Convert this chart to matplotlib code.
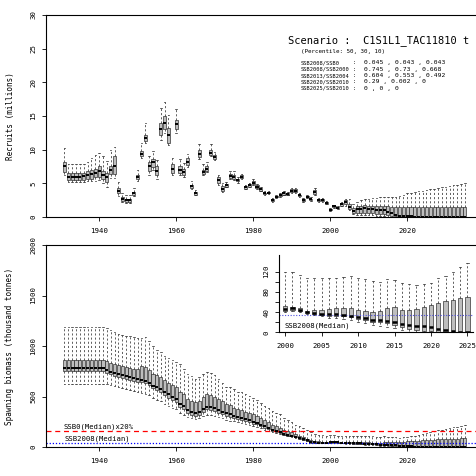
import numpy as np
import matplotlib.pyplot as plt

plt.rcParams['font.family'] = ['DejaVu Sans Mono']

years = list(range(1931, 2036))

# 加入量 (百万尾) : 箱ひげの5数
rec_lo = [6.3, 5.2, 5.2, 5.2, 5.2, 5.2, 5.3, 5.3, 5.4, 5.5,
          5.0, 4.5, 5.8, 5.8, 3.1, 2.2, 2.1, 2.1, 3.1, 5.4,
          8.7, 11.0, 6.3, 7.0, 5.7, 11.4, 12.5, 10.7, 6.2, 12.5,
          6.2, 6.0, 7.4, 4.1, 3.2, 8.6, 6.2, 6.7, 9.0, 8.4,
          4.8, 3.7, 4.4, 5.6, 5.5, 5.1, 5.6, 4.1, 4.4, 4.8,
          4.2, 3.8, 3.3, 3.4, 2.3, 2.8, 3.0, 3.2, 3.2, 3.6,
          3.6, 3.0, 2.3, 2.8, 2.4, 3.2, 2.3, 2.3, 1.9, 0.9,
          1.4, 1.2, 1.6, 1.7, 1.0, 0.4, 0.3, 0.3, 0.3, 0.3,
          0.3, 0.2, 0.1, 0.1, 0, 0, 0, 0, 0, 0,
          0, 0, 0, 0, 0, 0, 0, 0, 0, 0,
          0, 0, 0, 0, 0]
rec_q1 = [6.7, 5.5, 5.5, 5.5, 5.5, 5.5, 5.6, 5.7, 5.9, 6.0,
          5.6, 5.2, 6.4, 6.4, 3.5, 2.4, 2.3, 2.3, 3.3, 5.6,
          9.0, 11.3, 6.8, 7.4, 6.2, 12.2, 13.0, 11.0, 6.6, 13.0,
          6.5, 6.3, 7.7, 4.3, 3.3, 8.9, 6.4, 6.9, 9.2, 8.6,
          5.1, 3.9, 4.5, 5.8, 5.7, 5.3, 5.8, 4.2, 4.5, 4.9,
          4.3, 3.9, 3.4, 3.5, 2.4, 2.9, 3.1, 3.3, 3.3, 3.7,
          3.7, 3.1, 2.4, 2.9, 2.5, 3.4, 2.4, 2.4, 2.0, 1.0,
          1.5, 1.3, 1.7, 1.9, 1.2, 0.6, 0.6, 0.6, 0.6, 0.6,
          0.6, 0.5, 0.4, 0.4, 0.3, 0.2, 0.1, 0.05, 0, 0,
          0, 0, 0, 0, 0, 0, 0, 0, 0, 0,
          0, 0, 0, 0, 0]
rec_med = [7.5, 6.0, 6.0, 6.0, 6.0, 6.1, 6.3, 6.4, 6.6, 6.8,
           6.2, 5.9, 7.0, 7.5, 3.9, 2.7, 2.5, 2.5, 3.5, 5.9,
           9.4, 11.8, 7.5, 8.1, 6.9, 13.0, 13.9, 12.2, 7.2, 13.8,
           7.0, 6.7, 8.2, 4.6, 3.5, 9.4, 6.7, 7.2, 9.5, 8.9,
           5.5, 4.2, 4.7, 6.1, 6.0, 5.5, 6.0, 4.4, 4.7, 5.1,
           4.5, 4.1, 3.5, 3.6, 2.5, 3.0, 3.2, 3.5, 3.4, 3.9,
           3.9, 3.2, 2.5, 3.0, 2.6, 3.7, 2.5, 2.5, 2.1, 1.1,
           1.6, 1.4, 1.9, 2.2, 1.5, 0.9, 1.2, 1.2, 1.3, 1.2,
           1.2, 1.1, 1.0, 1.0, 0.8, 0.6, 0.3, 0.2, 0.1, 0.1,
           0.1, 0.05, 0.05, 0.05, 0, 0, 0, 0, 0, 0,
           0, 0, 0, 0, 0]
rec_q3 = [8.2, 6.5, 6.5, 6.5, 6.5, 6.6, 6.8, 7.0, 7.1, 7.5,
          6.8, 6.5, 7.6, 9.0, 4.3, 3.0, 2.7, 2.7, 3.7, 6.2,
          9.8, 12.2, 8.2, 8.6, 7.5, 14.0, 15.0, 13.2, 7.8, 14.4,
          7.6, 7.2, 8.7, 4.8, 3.7, 10.0, 7.0, 7.5, 9.9, 9.2,
          5.9, 4.6, 4.9, 6.4, 6.3, 5.7, 6.2, 4.6, 4.9, 5.3,
          4.7, 4.3, 3.6, 3.7, 2.6, 3.1, 3.3, 3.7, 3.5, 4.1,
          4.1, 3.3, 2.6, 3.1, 2.7, 4.0, 2.6, 2.6, 2.2, 1.2,
          1.7, 1.5, 2.1, 2.5, 2.0, 1.3, 1.7, 1.7, 1.8, 1.7,
          1.7, 1.6, 1.6, 1.6, 1.6, 1.5, 1.5, 1.5, 1.5, 1.5,
          1.5, 1.5, 1.5, 1.5, 1.5, 1.5, 1.5, 1.5, 1.5, 1.5,
          1.5, 1.5, 1.5, 1.5, 1.5]
rec_hi = [10.2, 7.9, 7.9, 7.8, 7.8, 7.9, 8.2, 8.8, 9.2, 9.5,
          9.0, 8.3, 10.0, 10.4, 5.2, 3.5, 3.2, 3.2, 4.3, 7.0,
          11.0, 13.9, 9.0, 9.8, 8.5, 16.2, 17.1, 15.1, 8.8, 16.1,
          8.6, 8.0, 9.3, 5.3, 4.0, 10.9, 7.8, 8.2, 10.8, 9.6,
          6.3, 5.0, 5.2, 6.9, 6.9, 6.0, 6.4, 4.8, 5.1, 5.6,
          4.9, 4.5, 3.8, 3.9, 2.8, 3.3, 3.5, 3.9, 3.7, 4.3,
          4.3, 3.5, 2.8, 3.3, 2.9, 4.3, 2.8, 2.8, 2.4, 1.3,
          1.8, 1.6, 2.3, 2.7, 2.6, 1.9, 2.2, 2.5, 2.6, 2.7,
          2.8, 2.8, 2.9, 3.0, 3.0, 2.9, 3.0, 3.1, 3.3, 3.5,
          3.6, 3.7, 3.8, 3.9, 4.0, 4.1, 4.2, 4.3, 4.4, 4.5,
          4.6, 4.7, 4.8, 4.9, 5.0]

# 親魚量 (千トン)
ssb_lo = [625, 625, 625, 625, 625, 625, 625, 625, 625, 625,
          625, 620, 612, 600, 590, 580, 570, 562, 555, 545,
          535, 525, 510, 485, 470, 455, 430, 410, 390, 372,
          340, 320, 300, 285, 278, 290, 310, 320, 318, 310,
          300, 285, 272, 262, 255, 245, 235, 225, 215, 205,
          198, 185, 172, 160, 145, 135, 128, 115, 105, 98,
          88, 75, 66, 56, 42, 40, 38, 37, 37, 41,
          43, 40, 36, 34, 32, 29, 28, 26, 24, 21,
          18, 15, 13, 11, 8, 5, 1, 0, 0, 0,
          0, 0, 0, 0, 0, 0, 0, 0, 0, 0,
          0, 0, 0, 0, 0]
ssb_q1 = [755, 755, 755, 755, 755, 755, 755, 755, 755, 755,
          755, 735, 720, 705, 695, 685, 675, 665, 655, 645,
          640, 630, 610, 580, 560, 540, 515, 490, 465, 445,
          400, 375, 340, 320, 305, 315, 345, 372, 365, 355,
          340, 322, 310, 300, 290, 280, 270, 255, 245, 232,
          225, 205, 190, 175, 155, 145, 140, 123, 113, 106,
          96, 80, 72, 60, 45, 42, 40, 40, 40, 43,
          45, 42, 38, 37, 35, 33, 33, 32, 30, 27,
          25, 21, 20, 19, 15, 11, 7, 5, 3, 2,
          1, 1, 1, 0, 0, 0, 0, 0, 0, 0,
          0, 0, 0, 0, 0]
ssb_med = [780, 780, 780, 780, 780, 780, 780, 780, 780, 780,
           780, 760, 745, 730, 720, 710, 700, 690, 680, 672,
           665, 655, 635, 605, 590, 570, 545, 520, 495, 475,
           430, 405, 370, 350, 335, 345, 375, 400, 395, 385,
           367, 348, 335, 325, 310, 300, 290, 275, 265, 252,
           242, 222, 205, 190, 168, 158, 150, 133, 122, 113,
           103, 87, 78, 65, 50, 46, 44, 44, 44, 47,
           49, 45, 40, 39, 37, 37, 36, 35, 33, 31,
           28, 25, 24, 23, 21, 17, 15, 13, 12, 10,
           7, 4, 2, 1, 1, 0, 0, 0, 0, 0,
           0, 0, 0, 0, 0]
ssb_q3 = [865, 865, 865, 865, 865, 865, 865, 865, 865, 865,
          865, 855, 835, 820, 810, 800, 790, 785, 775, 770,
          805, 790, 760, 720, 710, 690, 660, 635, 610, 590,
          545, 520, 480, 460, 445, 460, 495, 520, 510, 495,
          475, 455, 425, 420, 390, 380, 365, 345, 340, 325,
          305, 288, 265, 245, 222, 205, 190, 172, 160, 145,
          128, 112, 100, 80, 65, 60, 55, 52, 50, 52,
          51, 49, 43, 45, 45, 47, 48, 49, 49, 45,
          43, 41, 43, 49, 50, 45, 45, 47, 51, 55,
          58, 61, 63, 67, 70, 72, 74, 76, 78, 80,
          82, 83, 84, 85, 86]
ssb_hi = [1190, 1190, 1190, 1190, 1190, 1190, 1190, 1190, 1190, 1190,
          1190, 1180, 1160, 1140, 1120, 1110, 1100, 1095, 1088, 1080,
          1075, 1085, 1050, 1000, 965, 940, 900, 880, 860, 840,
          820, 770, 720, 700, 670, 690, 720, 743, 730, 710,
          670, 636, 597, 590, 570, 544, 540, 520, 505, 487,
          470, 437, 410, 390, 355, 340, 322, 290, 272, 245,
          222, 205, 190, 165, 145, 132, 122, 115, 112, 119,
          119, 113, 108, 107, 107, 107, 108, 109, 112, 107,
          105, 101, 100, 105, 103, 97, 95, 93, 95, 97,
          107, 112, 119, 129, 137, 145, 155, 165, 172, 180,
          188, 195, 200, 208, 215]

ssb0_20 = 155      # SSB0(Median) x 20%
ssb2008_med = 35   # SSB2008(Median)

scenario = 'Scenario :  C1S1L1_TAC11810 t'
pct_text = '(Percentile: 50, 30, 10)'
ratio_names = ['SSB2008/SSB0', 'SSB2008/SSB2000', 'SSB2013/SSB2004',
               'SSB2020/SSB2010', 'SSB2025/SSB2010']
ratio_vals = ['0.045 , 0.043 , 0.043', '0.745 , 0.73 , 0.668',
              '0.604 , 0.553 , 0.492', '0.29 , 0.002 , 0', '0 , 0 , 0']


def make_stats(lo, q1, med, q3, hi):
    return [dict(whislo=a, q1=b, med=c, q3=d, whishi=e, fliers=[])
            for a, b, c, d, e in zip(lo, q1, med, q3, hi)]


def draw_boxes(ax, stats, pos, w, mlw):
    ax.bxp(stats, positions=pos, widths=w, capwidths=w * 0.5,
           patch_artist=True, showfliers=False, manage_ticks=False,
           boxprops=dict(facecolor='#bebebe', edgecolor='#202020', linewidth=0.45),
           medianprops=dict(color='black', linewidth=mlw, solid_capstyle='butt'),
           whiskerprops=dict(color='#202020', linewidth=0.5, linestyle=(0, (3, 3))),
           capprops=dict(color='#202020', linewidth=0.5))


def style_axis(ax):
    for s in ax.spines.values():
        s.set_linewidth(0.8)
    ax.tick_params(direction='out', length=3, width=0.6, labelsize=5.3)
    ax.tick_params(axis='x', pad=5)
    ax.tick_params(axis='y', pad=4)
    for lab in ax.get_yticklabels():
        lab.set_rotation(90)
        lab.set_va('center')


W = 476
fig = plt.figure(figsize=(4.76, 4.76), dpi=100)
xl = (1926.2, 2039.7)

# 上段 : 加入量
ax1 = fig.add_axes([46 / W, 1 - 217 / W, 437 / W, 202 / W])
draw_boxes(ax1, make_stats(rec_lo, rec_q1, rec_med, rec_q3, rec_hi), years, 0.8, 1.4)
ax1.set_xlim(*xl)
ax1.set_ylim(0, 30)
ax1.set_xticks([1940, 1960, 1980, 2000, 2020])
ax1.set_yticks(range(0, 31, 5))
style_axis(ax1)
ax1.set_ylabel('Recruits (millions)', fontsize=5.5)
ax1.yaxis.set_label_coords(-0.071, 0.5)

fig.text(288 / W, 1 - 41 / W, scenario, fontsize=7.5, va='center', ha='left')
fig.text(301 / W, 1 - 52 / W, pct_text, fontsize=4.2, va='center', ha='left')
for i, (nm, v) in enumerate(zip(ratio_names, ratio_vals)):
    yy = 1 - (62.7 + 6.4 * i) / W
    fig.text(301 / W, yy, nm, fontsize=3.9, va='center', ha='left')
    fig.text(353 / W, yy, ':', fontsize=3.9, va='center', ha='left')
    fig.text(364 / W, yy, v, fontsize=4.6, va='center', ha='left')

# 下段 : 親魚量
ax2 = fig.add_axes([46 / W, 1 - 447 / W, 437 / W, 202 / W])
draw_boxes(ax2, make_stats(ssb_lo, ssb_q1, ssb_med, ssb_q3, ssb_hi), years, 0.8, 1.4)
ax2.axhline(ssb0_20, color='red', lw=0.9, ls=(0, (4, 3)))
ax2.axhline(ssb2008_med, color='blue', lw=0.9, ls=(0, (1, 1.5)))
ax2.text(1930.7, ssb0_20 + 12, 'SSB0(Median)x20%', fontsize=5.2, va='bottom', ha='left')
ax2.text(1930.9, ssb2008_med + 12, 'SSB2008(Median)', fontsize=5.2, va='bottom', ha='left')
ax2.set_xlim(*xl)
ax2.set_ylim(0, 2000)
ax2.set_xticks([1940, 1960, 1980, 2000, 2020])
ax2.set_yticks([0, 500, 1000, 1500, 2000])
style_axis(ax2)
ax2.set_ylabel('Spawning biomass (thousand tonnes)', fontsize=5.5)
ax2.yaxis.set_label_coords(-0.073, 0.5)

# 挿入図 : 2000-2025
sub = slice(years.index(2000), years.index(2025) + 1)
ax3 = fig.add_axes([279.3 / W, 1 - 332.3 / W, 194 / W, 77.3 / W])
ax3.patch.set_alpha(0)
draw_boxes(ax3, make_stats(ssb_lo[sub], ssb_q1[sub], ssb_med[sub], ssb_q3[sub], ssb_hi[sub]),
           years[sub], 0.6, 1.8)
ax3.axhline(ssb2008_med, color='#5050e0', lw=0.8, ls=(0, (1, 1.5)))
ax3.text(1999.9, 13, 'SSB2008(Median)', fontsize=5.2, va='center', ha='left')
ax3.set_xlim(1999.2, 2025.8)
ax3.set_ylim(0, 153)
ax3.set_xticks(range(2000, 2026, 5))
ax3.set_yticks(range(0, 121, 20))
ax3.set_yticklabels(['0', '', '40', '', '80', '', '120'])
ax3.spines['top'].set_visible(False)
ax3.spines['right'].set_visible(False)
style_axis(ax3)

fig.savefig('out.png', dpi=100)
